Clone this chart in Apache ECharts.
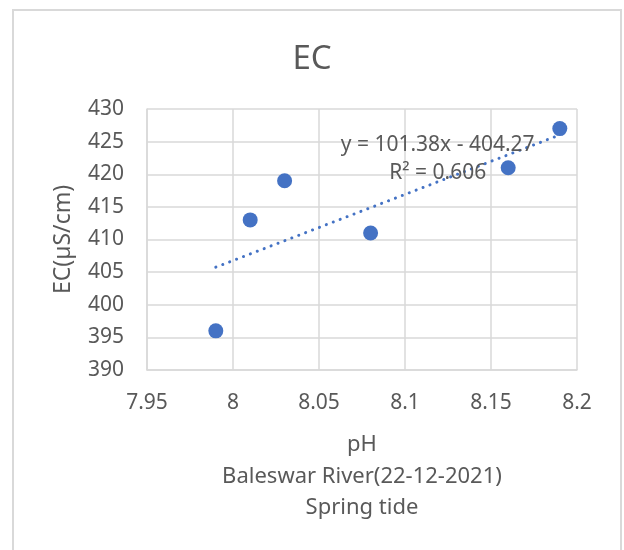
<!DOCTYPE html>
<html>
<head>
<meta charset="utf-8">
<script src="https://cdn.jsdelivr.net/npm/echarts@6/dist/echarts.min.js"></script>
<style>
  html, body { margin: 0; padding: 0; background: #fff; }
  #chart { width: 624px; height: 550px; }
</style>
</head>
<body>
<div id="chart"></div>
<script>
// Measurements: pH vs electrical conductivity
const phValues = [7.99, 8.01, 8.03, 8.08, 8.16, 8.19];
const ecValues = [396, 413, 419, 411, 421, 427];

// Linear trendline as reported: y = 101.38x - 404.27, R² = 0.606
const trendSlope = 101.38;
const trendIntercept = -404.27;
const trendRSquared = '0.606';
const trendX = [7.99, 8.19];

const xTicks = [7.95, 8, 8.05, 8.1, 8.15, 8.2];
const yTicks = [390, 395, 400, 405, 410, 415, 420, 425, 430];

const xAxisTitle = 'pH\nBaleswar River(22-12-2021)\nSpring tide';
const yAxisTitle = 'EC(µS/cm)';
const chartTitle = 'EC';

const textColor = '#595959';
const gridColor = '#d9d9d9';
const markColor = '#4472C4';
const font = 'Noto Sans';

const points = phValues.map((x, i) => [x, ecValues[i]]);
const trendLine = trendX.map(x => [x, trendSlope * x + trendIntercept]);

const gridBox = { left: 147, right: 47, top: 109, bottom: 180 };

const chart = echarts.init(document.getElementById('chart'), null, { renderer: 'canvas' });
chart.setOption({
  animation: false,
  backgroundColor: '#fff',
  textStyle: { fontFamily: font },
  title: {
    text: chartTitle,
    left: 'center',
    top: 38,
    textStyle: { fontFamily: font, fontSize: 33, fontWeight: 'normal', color: textColor }
  },
  grid: gridBox,
  xAxis: {
    type: 'value',
    min: xTicks[0],
    max: xTicks[xTicks.length - 1],
    interval: 0.05,
    axisLine: { show: true, lineStyle: { color: gridColor, width: 1.5 } },
    axisTick: { show: false },
    splitLine: { show: true, lineStyle: { color: gridColor, width: 1.5 } },
    axisLabel: {
      color: textColor, fontSize: 21, fontFamily: font, margin: 23,
      formatter: v => String(parseFloat(v.toFixed(2)))
    }
  },
  yAxis: {
    type: 'value',
    min: yTicks[0],
    max: yTicks[yTicks.length - 1],
    interval: 5,
    name: yAxisTitle,
    nameLocation: 'middle',
    nameGap: 72,
    nameMoveOverlap: false,
    nameTextStyle: { color: textColor, fontSize: 23, fontFamily: font },
    axisLine: { show: true, lineStyle: { color: gridColor, width: 1.5 } },
    axisTick: { show: false },
    splitLine: { show: true, lineStyle: { color: gridColor, width: 1.5 } },
    axisLabel: { color: textColor, fontSize: 21, fontFamily: font, margin: 23 }
  },
  series: [
    {
      type: 'line',
      data: trendLine,
      showSymbol: false,
      symbol: 'none',
      lineStyle: { color: markColor, width: 3, type: [0.1, 7.3], cap: 'round' },
      z: 2,
      silent: true
    },
    {
      type: 'scatter',
      data: points,
      symbolSize: 15,
      itemStyle: { color: markColor, opacity: 1 },
      z: 3
    }
  ]
});

// Chart frame, axis title under the plot, and the trendline equation
const eqPos = chart.convertToPixel({ gridIndex: 0 }, [8.119, 426.6]);
const plotCenterX = chart.convertToPixel({ gridIndex: 0 }, [(xTicks[0] + xTicks[xTicks.length - 1]) / 2, yTicks[0]])[0];
chart.setOption({
  graphic: [
    {
      type: 'rect',
      shape: { x: 13, y: 10, width: 608, height: 560 },
      style: { fill: 'none', stroke: gridColor, lineWidth: 2 },
      silent: true
    },
    {
      type: 'text',
      x: plotCenterX,
      y: 429,
      style: {
        text: xAxisTitle,
        fontFamily: font,
        fontSize: 22,
        lineHeight: 31.5,
        fill: textColor,
        align: 'center',
        verticalAlign: 'top'
      }
    },
    {
      type: 'text',
      x: eqPos[0],
      y: eqPos[1],
      z: 10,
      style: {
        text: 'y = ' + trendSlope.toFixed(2) + 'x - ' + Math.abs(trendIntercept).toFixed(2) + '\nR² = ' + trendRSquared,
        fontFamily: font,
        fontSize: 21,
        lineHeight: 28,
        fill: textColor,
        align: 'center',
        verticalAlign: 'top'
      }
    }
  ]
});
</script>
</body>
</html>
